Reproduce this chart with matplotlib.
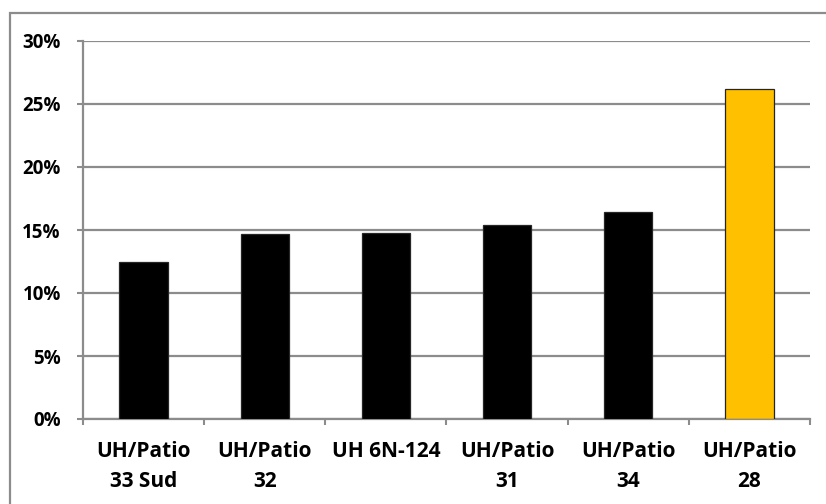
import numpy as np
import matplotlib.pyplot as plt
from matplotlib.patches import Rectangle

categories = ["UH/Patio\n33 Sud", "UH/Patio\n32", "UH 6N-124", "UH/Patio\n31", "UH/Patio\n34", "UH/Patio\n28"]
values = [12.5, 14.7, 14.8, 15.4, 16.4, 26.2]
colors = ["black", "black", "black", "black", "black", "#FFC000"]
y_ticks = [0, 5, 10, 15, 20, 25, 30]

plt.rcParams['font.family'] = ['Open Sans', 'DejaVu Sans']
plt.rcParams['font.weight'] = 'bold'

fig = plt.figure(figsize=(8.26, 5.04), dpi=100)
ax = fig.add_axes([83 / 826, 85 / 504, 727 / 826, 378 / 504])

x = np.arange(len(categories))
ax.bar(x, values, width=0.4, color=colors, edgecolor="#262626", linewidth=0.9, zorder=3)

ax.set_xlim(-0.5, len(categories) - 0.5)
ax.set_ylim(0, 30)
ax.set_yticks(y_ticks)
ax.set_yticklabels([f"{t}%" for t in y_ticks], fontsize=13.5, fontweight="bold")
ax.yaxis.grid(True, color="#8c8c8c", linewidth=1.6, zorder=0)

ax.set_xticks(x)
ax.set_xticklabels(categories, fontsize=15, fontweight="bold", linespacing=1.55, va="top")
ax.set_xticks(np.arange(-0.5, len(categories)), minor=True)
ax.tick_params(axis="x", which="major", length=0, pad=16)
ax.tick_params(axis="x", which="minor", length=4, width=1.5, color="#8c8c8c")
ax.tick_params(axis="y", length=4, width=1.5, color="#8c8c8c", pad=12)

for s in ["top", "right"]:
    ax.spines[s].set_visible(False)
for s in ["left", "bottom"]:
    ax.spines[s].set_color("#8c8c8c")
    ax.spines[s].set_linewidth(1.6)

fig.patches.append(Rectangle((10 / 826, -0.1), 1.2, (504 - 13) / 504 + 0.1,
                             transform=fig.transFigure, fill=False,
                             edgecolor="#8c8c8c", linewidth=1.6))

fig.savefig("out.png", dpi=100)
